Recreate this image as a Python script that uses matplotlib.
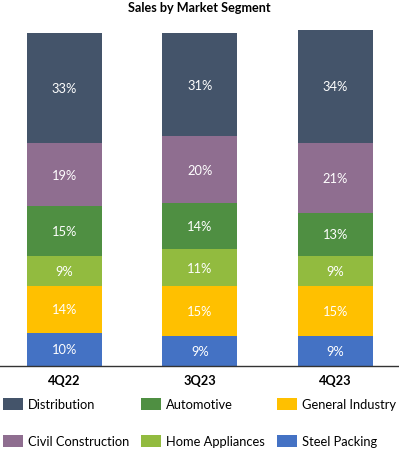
import matplotlib
matplotlib.use("Agg")
import matplotlib.pyplot as plt
from matplotlib.patches import Patch

plt.rcParams['font.family'] = ['Lato', 'DejaVu Sans']

categories = ["4Q22", "3Q23", "4Q23"]
segments = ["Steel Packing", "General Industry", "Home Appliances",
            "Automotive", "Civil Construction", "Distribution"]
steel_packing = [10, 9, 9]
general_industry = [14, 15, 15]
home_appliances = [9, 11, 9]
automotive = [15, 14, 13]
civil_construction = [19, 20, 21]
distribution = [33, 31, 34]

series = [steel_packing, general_industry, home_appliances,
          automotive, civil_construction, distribution]
colors = ["#4472C4", "#FFC000", "#92BB3F", "#4F8F42", "#8F6E90", "#44546A"]

fig = plt.figure(figsize=(3.99, 4.52), dpi=100)
H = 452
W = 399
ax = fig.add_axes([0.0, (H - 367) / H, 1.0, (367 - 30.7) / H])

x = list(range(len(categories)))
bottoms = [0] * len(categories)
handles = {}
for name, vals, col in zip(segments, series, colors):
    ax.bar(x, vals, bottom=bottoms, width=0.555, color=col, edgecolor='none')
    for xi, v, b in zip(x, vals, bottoms):
        ax.text(xi, b + v / 2, f"{v}%", ha='center', va='center',
                color='white', fontsize=9.3)
    handles[name] = Patch(facecolor=col, edgecolor='none')
    bottoms = [b + v for b, v in zip(bottoms, vals)]

ax.set_xlim(-0.476, 2.47)
ax.set_ylim(0, 101)
ax.set_xticks(x)
ax.set_xticklabels(categories, fontweight='bold', fontsize=9.2)
ax.tick_params(axis='x', length=0, pad=5.5)
ax.set_yticks([])
for s in ['top', 'right', 'left']:
    ax.spines[s].set_visible(False)
ax.spines['bottom'].set_linewidth(1.0)
ax.spines['bottom'].set_color('#333333')

fig.text(0.5, 1 - 8 / H, "Sales by Market Segment", ha='center', va='center',
         fontweight='bold', fontsize=9.1)

order = ["Distribution", "Civil Construction", "Automotive",
         "Home Appliances", "General Industry", "Steel Packing"]
leg = fig.legend([handles[n] for n in order], order, ncol=3,
                 loc='upper left', bbox_to_anchor=(3 / W, 1 - 398.5 / H),
                 frameon=False, fontsize=9.3, handlelength=1.55, handleheight=1.08,
                 handletextpad=0.39, columnspacing=0.93, labelspacing=1.93,
                 borderpad=0.0, borderaxespad=0.0)

fig.savefig("out.png", dpi=100)
